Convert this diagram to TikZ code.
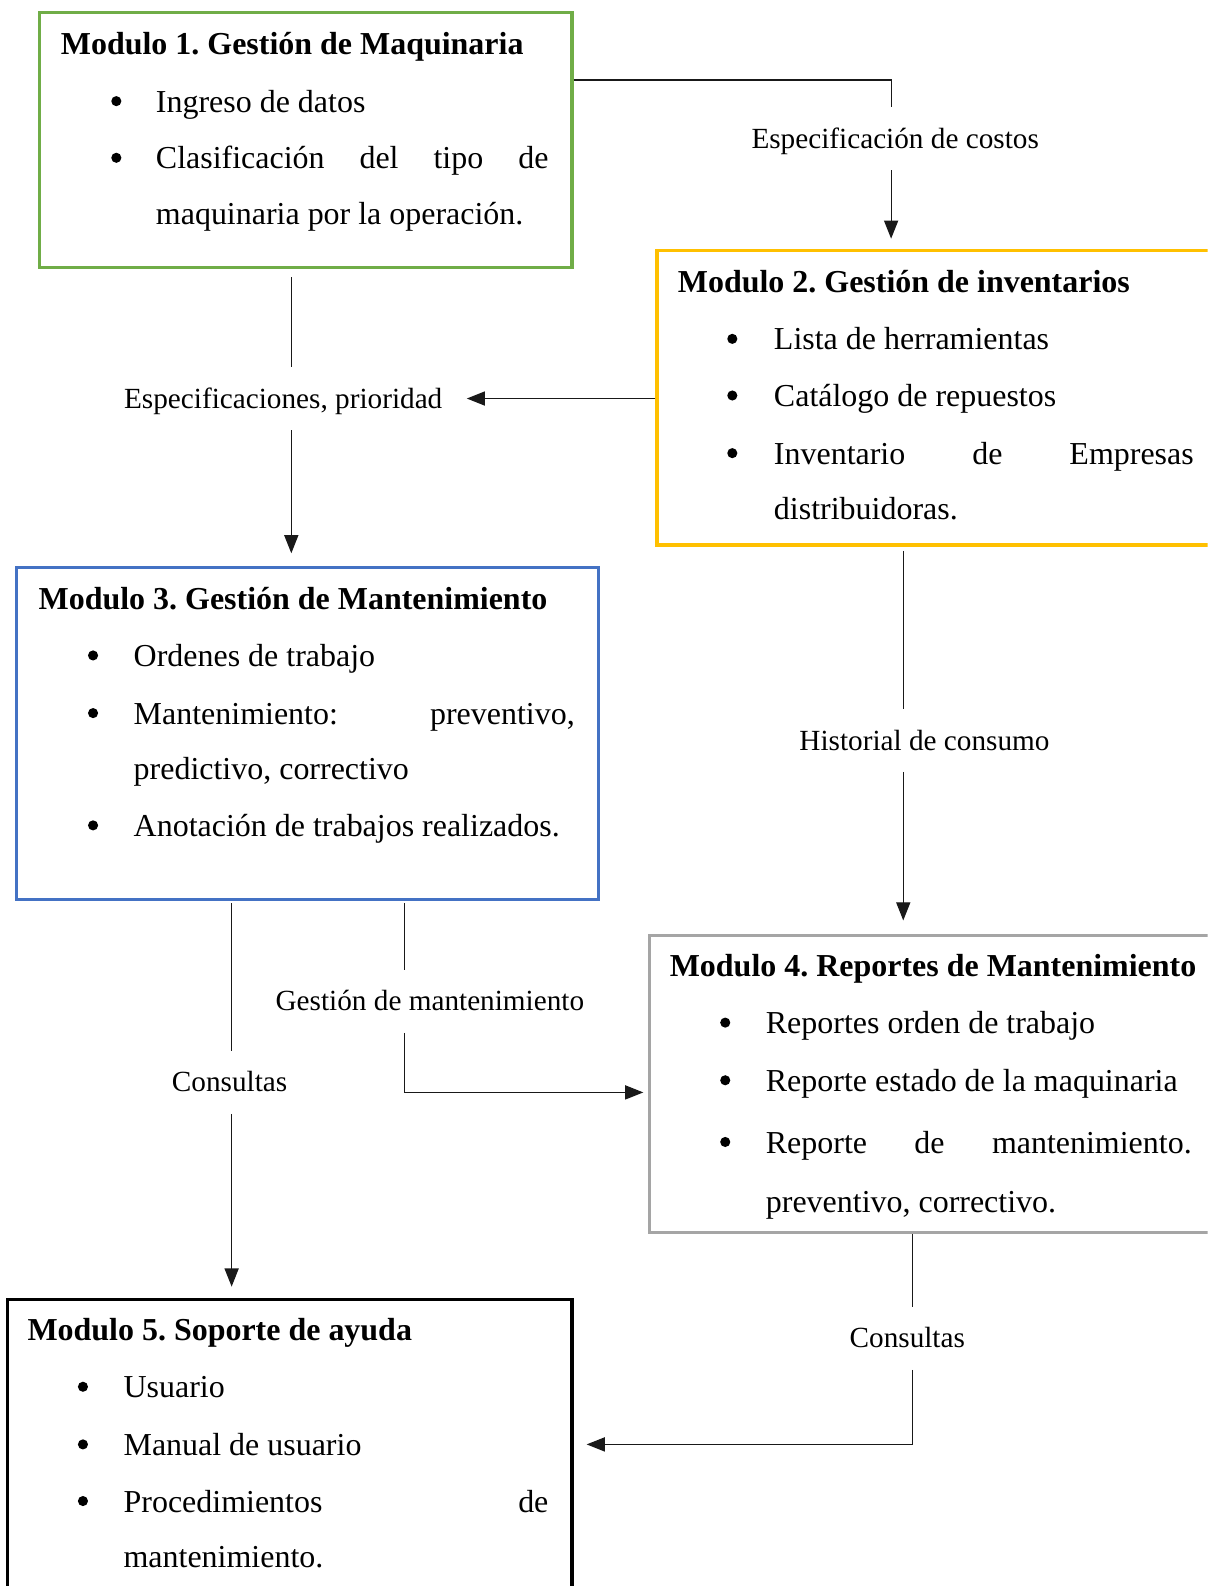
\documentclass[tikz,border=0pt]{standalone}
\usepackage{fontspec}
\setmainfont{Liberation Serif}
\usetikzlibrary{arrows.meta}
\definecolor{grn}{HTML}{70AD47}
\definecolor{orn}{HTML}{FFC000}
\definecolor{blu}{HTML}{4472C4}
\definecolor{gry}{HTML}{A5A5A5}
\frenchspacing
\begin{document}
\begin{tikzpicture}[x=1pt,y=-1pt,
  mbox/.style={draw, line width=3pt, inner sep=0pt, anchor=north west},
  ttl/.style={anchor=base west, inner sep=0pt, font=\fontsize{31.6}{38}\selectfont\bfseries},
  itm/.style={anchor=base west, inner sep=0pt, font=\fontsize{31.6}{38}\selectfont},
  dot/.style={circle, fill=black, inner sep=0pt, minimum size=10pt},
  lbl/.style={font=\fontsize{28.9}{34}\selectfont, text height=23pt, text depth=4pt, inner xsep=2pt, inner ysep=0pt, minimum height=62pt},
  conn/.style={line width=1.2pt, draw=black!90},
  arr/.style={conn, -{Triangle[length=18pt,width=14pt]}}]
\useasboundingbox (0,0) rectangle (1194,1568);
\clip (0,0) rectangle (1194,1568);

% boxes
\node[mbox, draw=grn, minimum width=526pt, minimum height=252pt] (m1) at (38,11) {};
\node[mbox, draw=orn, line width=3.5pt, minimum width=600pt, minimum height=291pt] (m2) at (648,246) {};
\node[mbox, draw=blu, minimum width=575pt, minimum height=328pt] (m3) at (15,560) {};
\node[mbox, draw=gry, minimum width=600pt, minimum height=294pt] (m4) at (641,923) {};
\node[mbox, draw=black, minimum width=558pt, minimum height=400pt] (m5) at (6,1283) {};

% box 1
\node[ttl] (t1) at (60,54) {Modulo 1. Gestión de Maquinaria};
\node[dot] (d11) at (115,100) {};
\node[dot] (d12) at (115,156) {};
\node[itm] (i11) at (154,111) {Ingreso de datos};
\node[itm] (i12) at (154,167) {\hbox to 388pt{Clasificación\hfill del\hfill tipo\hfill de}};
\node[itm] (i13) at (154,222) {maquinaria por la operación.};

% box 2
\node[ttl] (t2) at (670,289) {Modulo 2. Gestión de inventarios};
\node[dot] (d21) at (724,335) {};
\node[dot] (d22) at (724,391) {};
\node[dot] (d23) at (724,448) {};
\node[itm] (i21) at (765,346) {Lista de herramientas};
\node[itm] (i22) at (765,402) {Catálogo de repuestos};
\node[itm] (i23) at (765,459) {\hbox to 415pt{Inventario\hfill de\hfill Empresas}};
\node[itm] (i24) at (765,514) {distribuidoras.};

% box 3
\node[ttl] (t3) at (38,603) {Modulo 3. Gestión de Mantenimiento};
\node[dot] (d31) at (92,648) {};
\node[dot] (d32) at (92,705) {};
\node[dot] (d33) at (92,816) {};
\node[itm] (i31) at (132,659) {Ordenes de trabajo};
\node[itm] (i32) at (132,716) {\hbox to 436pt{Mantenimiento:\hfill preventivo,}};
\node[itm] (i33) at (132,771) {predictivo, correctivo};
\node[itm] (i34) at (132,827) {Anotación de trabajos realizados.};

% box 4
\node[ttl] (t4) at (662,965) {Modulo 4. Reportes de Mantenimiento};
\node[dot] (d41) at (717,1011) {};
\node[dot] (d42) at (717,1068) {};
\node[dot] (d43) at (717,1129) {};
\node[itm] (i41) at (757,1022) {Reportes orden de trabajo};
\node[itm] (i42) at (757,1079) {Reporte estado de la maquinaria};
\node[itm] (i43) at (757,1140) {\hbox to 421pt{Reporte\hfill de\hfill mantenimiento.}};
\node[itm] (i44) at (757,1199) {preventivo, correctivo.};

% box 5
\node[ttl] (t5) at (27,1325) {Modulo 5. Soporte de ayuda};
\node[dot] (d51) at (82,1371) {};
\node[dot] (d52) at (82,1428) {};
\node[dot] (d53) at (82,1484) {};
\node[itm] (i51) at (122,1382) {Usuario};
\node[itm] (i52) at (122,1439) {Manual de usuario};
\node[itm] (i53) at (122,1495) {\hbox to 420pt{Procedimientos\hfill de}};
\node[itm] (i54) at (122,1550) {mantenimiento.};

% labels
\node[lbl] (l1) at (885,137) {Especificación de costos};
\node[lbl] (l2) at (280,394) {Especificaciones, prioridad};
\node[lbl] (l4) at (914,732) {Historial de consumo};
\node[lbl] (l5) at (425,990) {Gestión de mantenimiento};
\node[lbl] (l6) at (227,1070) {Consultas};
\node[lbl] (l7) at (897,1323) {Consultas};

% connector guide coordinates
\coordinate (c1) at (881,79);
\coordinate (c2) at (288,0);
\coordinate (c4) at (893,0);
\coordinate (c5) at (400,1080);
\coordinate (c6) at (229,0);
\coordinate (c7) at (902,1428);

% connectors
\draw[conn] (m1.east |- c1) -| (l1.north -| c1);
\draw[arr, shorten >=10pt] (l1.south -| c1) -- (m2.north -| c1);

\draw[conn, shorten <=8pt] (m1.south -| c2) -- (l2.north -| c2);
\draw[arr, shorten >=13pt] (l2.south -| c2) -- (m3.north -| c2);
\draw[arr, shorten >=22pt] (m2.west |- l2) -- (l2.east);

\draw[conn, shorten <=4pt] (m2.south -| c4) -- (l4.north -| c4);
\draw[arr, shorten >=13pt] (l4.south -| c4) -- (m4.north -| c4);

\draw[conn, shorten <=2pt] (m3.south -| c5) -- (l5.north -| c5);
\draw[arr, shorten >=5pt] (l5.south -| c5) |- (m4.west |- c5);

\draw[conn, shorten <=2pt] (m3.south -| c6) -- (l6.north -| c6);
\draw[arr, shorten >=11pt] (l6.south -| c6) -- (m5.north -| c6);

\draw[conn] (m4.south -| c7) -- (l7.north -| c7);
\draw[arr, shorten >=13pt] (l7.south -| c7) |- (m5.east |- c7);
\end{tikzpicture}
\end{document}
